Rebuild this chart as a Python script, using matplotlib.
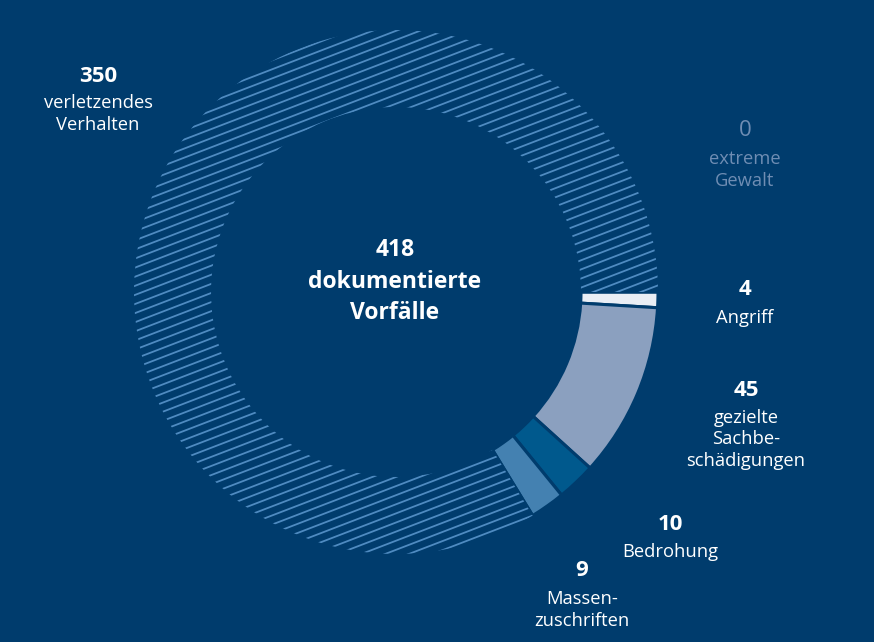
import numpy as np
import matplotlib
matplotlib.use("Agg")
import matplotlib.pyplot as plt

# data
categories = ["Angriff", "gezielte\nSachbe-\nschädigungen", "Bedrohung",
              "Massen-\nzuschriften", "verletzendes\nVerhalten"]
values = [4, 45, 10, 9, 350]
extreme_label = "extreme\nGewalt"
extreme_value = 0
total = sum(values) + extreme_value

BG = "#003c6d"
HATCH = "#4f8bc1"
seg_colors = ["#e9eef5", "#8ba0bf", "#00598d", "#4481b1", BG]
MUTED = "#6f8db3"

plt.rcParams["font.family"] = ["Open Sans", "DejaVu Sans"]

W, H = 874, 642
fig = plt.figure(figsize=(W / 100, H / 100), dpi=100)
fig.patch.set_facecolor(BG)
ax = fig.add_axes([0, 0, 1, 1])
ax.set_facecolor(BG)

# ring geometry in pixels -> data units (outer radius = 1)
cx, cy, r_out, r_in = 396, 292, 262, 185

wedges, _ = ax.pie(values, colors=seg_colors, startangle=0, counterclock=False,
                   radius=1, center=(0, 0), frame=True,
                   wedgeprops=dict(width=(r_out - r_in) / r_out,
                                   edgecolor=BG, linewidth=2.2))
ax.set_xlim(-cx / r_out, (W - cx) / r_out)
ax.set_ylim(-(H - cy) / r_out, cy / r_out)
ax.set_aspect("equal")
ax.axis("off")

# diagonal hatch for the big segment, clipped to its wedge
big = wedges[-1]
ang = np.deg2rad(21)
spacing = 8.5 / r_out
d = np.array([np.cos(ang), np.sin(ang)])
n = np.array([-np.sin(ang), np.cos(ang)])
for k in np.arange(-1.6, 1.6, spacing):
    p0 = n * k - d * 2
    p1 = n * k + d * 2
    ln, = ax.plot([p0[0], p1[0]], [p0[1], p1[1]], color=HATCH, lw=1.3,
                  solid_capstyle="butt")
    ln.set_clip_path(big)


def px(x, y):
    return x / W, 1 - y / H


def label(x, y, num, txt, color="white", weight="bold", gap=28, step=21.5):
    fig.text(*px(x, y), str(num), color=color, fontsize=16,
             fontweight=weight, ha="center", va="center")
    for i, line in enumerate(txt.split("\n")):
        fig.text(*px(x, y + gap + i * step), line, color=color,
                 fontsize=13.2, ha="center", va="center")


label(98, 77, values[4], categories[4], gap=26)
label(745, 131, extreme_value, extreme_label, color=MUTED, weight="normal")
label(745, 290, values[0], categories[0])
label(746, 390, values[1], categories[1])
label(670, 524, values[2], categories[2])
label(582, 571, values[3], categories[3])

# centre text
for i, line in enumerate([str(total), "dokumentierte", "Vorfälle"]):
    fig.text(*px(395, 250 + i * 31.5), line, color="white", fontsize=16.5,
             fontweight="bold", ha="center", va="center")

fig.savefig("out.png", dpi=100, facecolor=BG)
